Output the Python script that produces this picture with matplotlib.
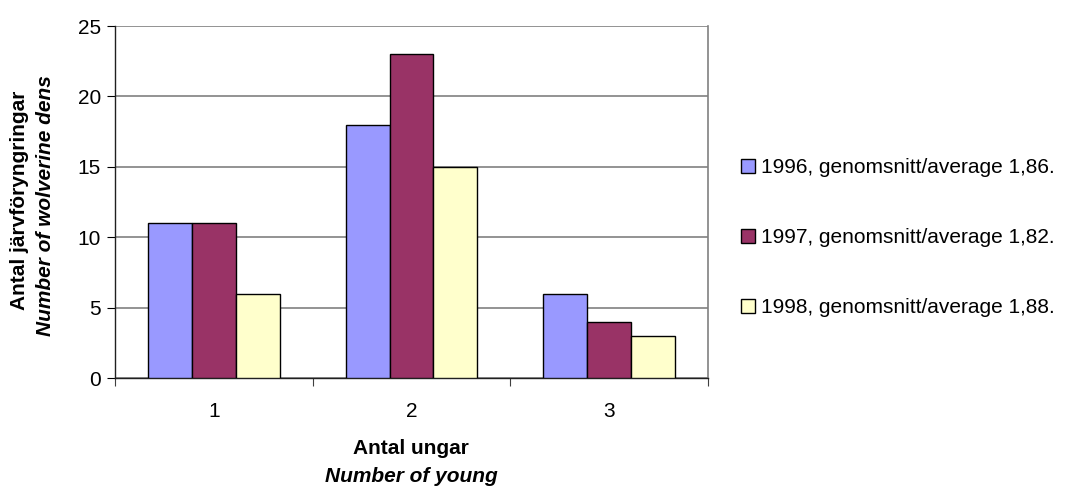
import matplotlib.pyplot as plt
import numpy as np
from matplotlib.patches import Patch

plt.rcParams['font.family'] = ['Liberation Sans', 'DejaVu Sans']

categories = ['1', '2', '3']
years = ['1996', '1997', '1998']
averages = ['1,86', '1,82', '1,88']
dens_1996 = [11, 18, 6]
dens_1997 = [11, 23, 4]
dens_1998 = [6, 15, 3]
colors = ['#9999FF', '#993366', '#FFFFCC']

fig = plt.figure(figsize=(10.66, 4.9), dpi=100)
ax = fig.add_axes([115 / 1066, 1 - 378 / 490, (708 - 115) / 1066, (378 - 26) / 490])

x = np.arange(len(categories))
w = 2 / 9
series = [dens_1996, dens_1997, dens_1998]
for i, vals in enumerate(series):
    ax.bar(x + (i - 1) * w, vals, width=w, color=colors[i], edgecolor='black',
           linewidth=1.0, zorder=3)

ax.set_xlim(-0.5, 2.5)
ax.set_ylim(0, 25)
ax.set_yticks(range(0, 26, 5))
ax.set_xticks(x)
ax.set_xticklabels(categories)
ax.set_xticks([-0.5, 0.5, 1.5, 2.5], minor=True)
ax.tick_params(axis='x', which='major', length=0, pad=17, labelsize=15)
ax.tick_params(axis='x', which='minor', length=6, width=0.8, color='#404040')
ax.tick_params(axis='y', length=6, width=0.8, pad=4, labelsize=15)
ax.grid(axis='y', color='#808080', linewidth=1.2, zorder=0)
ax.spines['top'].set_visible(False)
ax.spines['right'].set_color('#808080')
ax.spines['right'].set_linewidth(1.2)
for s in ['left', 'bottom']:
    ax.spines[s].set_color('#202020')
    ax.spines[s].set_linewidth(1.0)

fig.text(411 / 1066, 1 - 448 / 490, 'Antal ungar', ha='center', va='center',
         fontsize=15, fontweight='bold')
fig.text(411 / 1066, 1 - 476 / 490, 'Number of young', ha='center', va='center',
         fontsize=15, fontweight='bold', style='italic')
fig.text(20 / 1066, 1 - 200 / 490, 'Antal järvföryngringar', ha='center', va='center',
         rotation=90, fontsize=15, fontweight='bold')
fig.text(46 / 1066, 1 - 206 / 490, 'Number of wolverine dens', ha='center', va='center',
         rotation=90, fontsize=15, fontweight='bold', style='italic')

handles = [Patch(facecolor=colors[i], edgecolor='black', linewidth=1.0) for i in range(3)]
labels = [f'{years[i]}, genomsnitt/average {averages[i]}.' for i in range(3)]
fig.legend(handles, labels, loc='upper left', bbox_to_anchor=(741 / 1066, 1 - 158 / 490),
           frameon=False, fontsize=15, borderpad=0, borderaxespad=0,
           handlelength=0.67, handleheight=0.67, handletextpad=0.3, labelspacing=2.45)

fig.savefig('out.png', dpi=100)
